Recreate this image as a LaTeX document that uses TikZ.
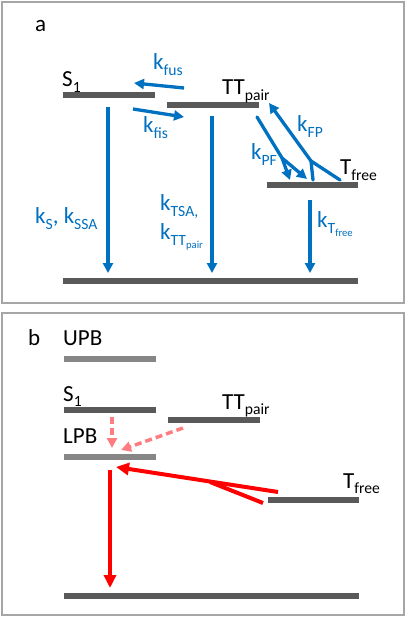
\documentclass[tikz,border=0pt]{standalone}
\usepackage{fontspec}
\setmainfont{Carlito}
\usepackage{graphicx}
\usetikzlibrary{arrows.meta}
\definecolor{kblue}{HTML}{0070C0}
\definecolor{bardark}{HTML}{595959}
\definecolor{barlight}{HTML}{868686}
\definecolor{framegray}{HTML}{A6A6A6}
\definecolor{dashred}{HTML}{FF7C80}
\newcommand{\dn}[1]{\raisebox{-0.22em}{\scalebox{0.68}{#1}}}
\begin{document}
\begin{tikzpicture}[x=1pt,y=-1pt,
  lvl/.style={line width=6pt, bardark},
  lvllight/.style={line width=6pt, barlight},
  statelbl/.style={anchor=base west, inner sep=0pt, font=\fontsize{23}{27}\selectfont},
  ratelbl/.style={anchor=base west, inner sep=0pt, text=kblue, font=\fontsize{23}{27}\selectfont},
  barr/.style={kblue, line width=3.3pt, -{Triangle[length=10pt,width=10pt]}},
  bline/.style={kblue, line width=3.3pt, line cap=round},
  rarr/.style={red, line width=4pt, -{Triangle[length=13pt,width=12pt]}},
  rline/.style={red, line width=4pt},
  darr/.style={dashred, line width=3.5pt, dash pattern=on 7pt off 4pt, -{Triangle[length=10pt,width=10pt]}},
  panel/.style={framegray, line width=2pt}
]
\useasboundingbox[fill=white] (0,0) rectangle (407,617);
% ---------------- panel a ----------------
\draw[panel] (2,2) rectangle (404,303);
\node[statelbl] (la) at (35,32) {a};
% levels
\coordinate (aS1l) at (63,95);   \coordinate (aS1r) at (155,95);
\coordinate (aTTl) at (167,105); \coordinate (aTTr) at (259,105);
\coordinate (aTfl) at (267,185); \coordinate (aTfr) at (358,185);
\coordinate (aGl) at (63,281);   \coordinate (aGr) at (358,281);
\draw[lvl] (aS1l) -- (aS1r);
\draw[lvl] (aTTl) -- (aTTr);
\draw[lvl] (aTfl) -- (aTfr);
\draw[lvl] (aGl) -- (aGr);
\node[statelbl] (aS1) at (62,87) {S\dn{1}};
\node[statelbl] (aTT) at (222,95) {TT\dn{pair}};
\node[statelbl] (aTf) at (340,175) {T\dn{free}};
% vertical decays
\coordinate (v1s) at (108,107); \coordinate (v1e) at (108,273);
\coordinate (v2s) at (212,116); \coordinate (v2e) at (212,273);
\coordinate (v3s) at (310,200); \coordinate (v3e) at (310,273);
\draw[barr] (v1s) -- (v1e);
\draw[barr] (v2s) -- (v2e);
\draw[barr] (v3s) -- (v3e);
% fusion / fission
\coordinate (fus1) at (184,88); \coordinate (fus2) at (134,83);
\coordinate (fis1) at (133,109); \coordinate (fis2) at (184,117);
\draw[barr] (fus1) -- (fus2);
\draw[barr] (fis1) -- (fis2);
% kPF fork
\coordinate (pf0) at (257,117); \coordinate (pfm) at (282,158);
\coordinate (pfa) at (290,180); \coordinate (pfb) at (307,179);
\draw[bline] (pf0) -- (pfm);
\draw[barr] (pfm) -- (pfa);
\draw[barr] (pfm) -- (pfb);
% kFP fork
\coordinate (fpa) at (313,180); \coordinate (fpb) at (340,180);
\coordinate (fpm) at (311,161); \coordinate (fpt) at (269,103);
\draw[bline] (fpa) -- (fpm);
\draw[bline] (fpb) -- (fpm);
\draw[barr] (fpm) -- (fpt);
% rate labels
\node[ratelbl] (kfus) at (153,70) {k\dn{fus}};
\node[ratelbl] (kfis) at (143,133) {k\dn{fis}};
\node[ratelbl] (kFP) at (297,132) {k\dn{FP}};
\node[ratelbl] (kPF) at (251,160) {k\dn{PF}};
\node[ratelbl] (kS) at (35,224) {k\dn{S}, k\dn{SSA}};
\node[ratelbl] (kTSA) at (160,211) {k\dn{TSA,}};
\node[ratelbl] (kTTp) at (160,240) {k\dn{TT\dn{pair}}};
\node[ratelbl] (kTf) at (317,228) {k\dn{T\dn{free}}};
% ---------------- panel b ----------------
\draw[panel] (2,313) rectangle (404,615);
\node[statelbl] (lb) at (28,345) {b};
\coordinate (bUl) at (64,359);   \coordinate (bUr) at (156,359);
\coordinate (bS1l) at (64,410);  \coordinate (bS1r) at (156,410);
\coordinate (bTTl) at (168,420); \coordinate (bTTr) at (260,420);
\coordinate (bLl) at (64,457);   \coordinate (bLr) at (156,457);
\coordinate (bTfl) at (268,500); \coordinate (bTfr) at (359,500);
\coordinate (bGl) at (64,596);   \coordinate (bGr) at (359,596);
\draw[lvllight] (bUl) -- (bUr);
\draw[lvl] (bS1l) -- (bS1r);
\draw[lvl] (bTTl) -- (bTTr);
\draw[lvllight] (bLl) -- (bLr);
\draw[lvl] (bTfl) -- (bTfr);
\draw[lvl] (bGl) -- (bGr);
\node[statelbl] (bUPB) at (63,345) {UPB};
\node[statelbl] (bS1) at (63,401) {S\dn{1}};
\node[statelbl] (bTT) at (222,409) {TT\dn{pair}};
\node[statelbl] (bLPB) at (63,443) {LPB};
\node[statelbl] (bTf) at (343,488) {T\dn{free}};
% dashed transfers
\coordinate (d1s) at (112,417); \coordinate (d1e) at (112,448);
\coordinate (d2s) at (183,428); \coordinate (d2e) at (121,450);
\draw[darr] (d1s) -- (d1e);
\draw[darr] (d2s) -- (d2e);
% Tfree -> LPB fork
\coordinate (rt) at (116,467); \coordinate (ru) at (278,492);
\coordinate (rl) at (263,503); \coordinate (rm) at (210,482);
\draw[rarr] (ru) -- (rt);
\draw[rline] (rl) -- (rm);
% emission
\coordinate (es) at (110,470); \coordinate (ee) at (110,588);
\draw[rarr] (es) -- (ee);
\end{tikzpicture}
\end{document}
